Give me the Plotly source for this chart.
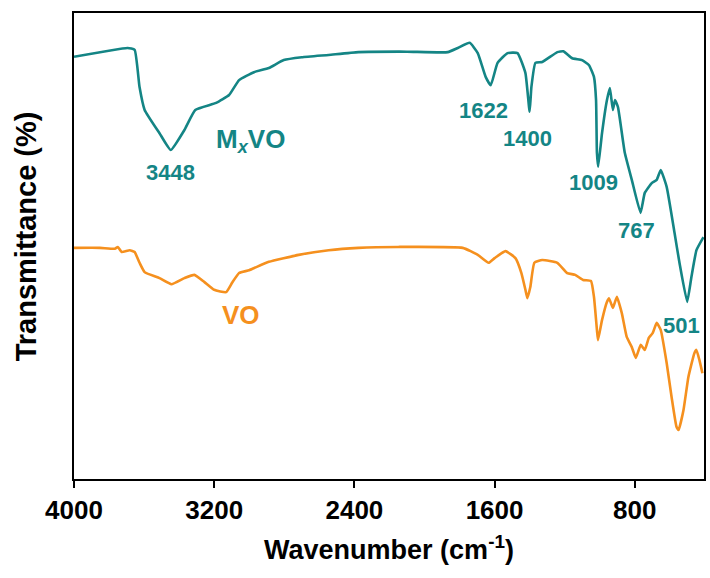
import plotly.graph_objects as go

# M_xVO spectrum (teal)
mxvo_wn = [4000, 3694, 3654, 3626, 3597, 3512, 3448, 3370, 3308, 3189, 3115, 3058, 2973, 2888, 2803,
           2700, 2547, 2377, 2100, 1867, 1810, 1742, 1696, 1651, 1622, 1583, 1526, 1469, 1424, 1400, 1390, 1367,
           1328, 1242, 1208, 1157, 1101, 1061, 1033, 1021, 1016, 1009, 987, 959, 942, 925, 913, 896,
           857, 817, 767, 743, 703, 675, 652, 618, 573, 545, 501, 477, 448, 408]
mxvo_t = [90.6, 92.5, 92.1, 84.1, 79.2, 74.2, 70.6, 74.9, 79.2, 80.7, 82.4, 85.6, 87.3, 88.2, 89.9,
          90.5, 91.0, 91.6, 91.7, 91.6, 92.5, 93.6, 91.4, 86.3, 84.5, 89.3, 91.4, 91.4, 87.1, 78.8, 84.1, 89.3,
          89.5, 91.6, 91.8, 90.3, 89.9, 88.8, 86.3, 81.3, 70.0, 67.0, 74.2, 81.3, 83.9, 79.2, 81.3, 79.8,
          70.0, 64.2, 57.1, 61.4, 63.5, 64.2, 66.3, 62.7, 52.8, 46.4, 38.0, 43.3, 49.1, 51.9]

# VO spectrum (orange)
vo_wn = [4000, 3852, 3767, 3750, 3728, 3682, 3654, 3626, 3597, 3512, 3444, 3370, 3313, 3257, 3200,
         3132, 3098, 3058, 3001, 2888, 2718, 2547, 2377, 2150, 1782, 1696, 1634, 1600, 1538, 1481,
         1447, 1424, 1413, 1396, 1373, 1328, 1242, 1186, 1140, 1095, 1050, 1033, 1016, 1010, 987,
         959, 947, 925, 902, 874, 846, 817, 794, 766, 743, 720, 698, 675, 652, 618, 590, 562, 550,
         522, 494, 460, 448, 431, 414]
vo_t = [49.6, 49.6, 49.4, 49.8, 48.7, 49.1, 48.7, 46.4, 44.4, 43.1, 41.8, 43.1, 43.8, 42.3, 40.6,
        40.1, 42.1, 44.2, 44.8, 46.6, 48.1, 49.1, 49.6, 49.8, 49.6, 48.1, 46.4, 47.4, 48.9, 47.4,
        44.2, 40.6, 38.8, 41.2, 46.4, 47.0, 46.4, 44.2, 43.8, 42.7, 42.5, 39.1, 32.0, 29.8, 34.1,
        38.0, 38.8, 36.7, 39.1, 35.6, 30.5, 28.3, 26.0, 28.8, 27.7, 30.3, 31.3, 33.5, 32.0, 24.9,
        17.6, 11.2, 10.5, 14.8, 21.9, 27.0, 27.7, 25.5, 22.7]

peak_labels = ["3448", "1622", "1400", "1009", "767", "501"]
peak_x = [3448, 1662, 1413, 1033, 789, 533]
peak_y = [65.7, 79.1, 73.0, 63.7, 53.4, 33.0]

x_ticks = [4000, 3200, 2400, 1600, 800]

TEAL = "#148585"
ORANGE = "#f5901e"
FONT = "Liberation Sans"

fig = go.Figure()
fig.add_trace(go.Scatter(x=mxvo_wn, y=mxvo_t, mode="lines",
                         line=dict(color=TEAL, width=2.6, shape="spline", smoothing=0.4),
                         showlegend=False))
fig.add_trace(go.Scatter(x=vo_wn, y=vo_t, mode="lines",
                         line=dict(color=ORANGE, width=2.6, shape="spline", smoothing=0.4),
                         showlegend=False))

for lab, px, py in zip(peak_labels, peak_x, peak_y):
    fig.add_annotation(x=px, y=py, text=lab, showarrow=False,
                       font=dict(family=FONT, size=22, color=TEAL, weight="bold"))

fig.add_annotation(x=3200, y=72.6, text="M<sub><i>x</i></sub>VO", showarrow=False,
                   xanchor="left", yanchor="middle",
                   font=dict(family=FONT, size=26, color=TEAL, weight="bold"))
fig.add_annotation(x=3047, y=35.2, text="VO", showarrow=False,
                   font=dict(family=FONT, size=26, color=ORANGE, weight="bold"))

# y-axis title placed as rotated text
fig.add_annotation(xref="paper", yref="paper", x=-0.076, y=0.521, text="Transmittance (%)",
                   textangle=-90, showarrow=False, xanchor="center", yanchor="middle",
                   font=dict(family=FONT, size=29, color="black", weight="bold"))

fig.update_layout(
    width=710, height=578,
    margin=dict(l=74, r=4, t=13, b=99),
    paper_bgcolor="white", plot_bgcolor="white",
    font=dict(family=FONT, color="black"),
)
fig.update_xaxes(
    range=[4000, 405], tickvals=x_ticks, ticktext=[str(v) for v in x_ticks],
    ticks="outside", ticklen=7, tickwidth=2, tickcolor="black",
    showline=True, linecolor="black", linewidth=2, mirror=True,
    showgrid=False, zeroline=False,
    tickfont=dict(family=FONT, size=26, color="black", weight="bold"),
    title=dict(text="Wavenumber (cm<sup>-1</sup>)", standoff=16,
               font=dict(family=FONT, size=27, color="black", weight="bold")),
)
fig.update_yaxes(
    range=[0, 100], showticklabels=False, ticks="",
    showline=True, linecolor="black", linewidth=2, mirror=True,
    showgrid=False, zeroline=False,
)

fig.write_html("out.html")
